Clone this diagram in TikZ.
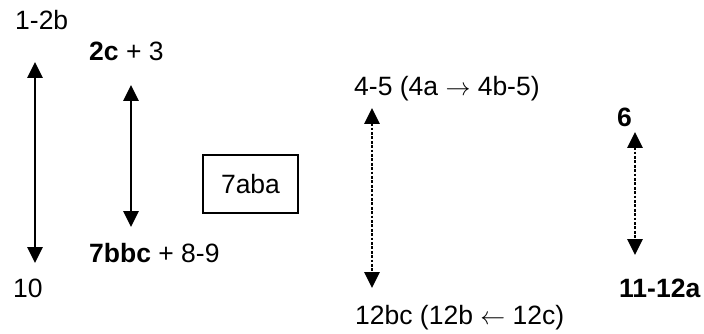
\documentclass[tikz,border=0pt]{standalone}
\usepackage{fontspec}
\setmainfont{Liberation Sans}
\usetikzlibrary{arrows.meta}
\begin{document}
\begin{tikzpicture}[x=1pt,y=-1pt,
  lbl/.style={anchor=base west,inner sep=0pt,font=\fontsize{26.5}{31}\selectfont},
  solidarr/.style={line width=2.8pt,{Triangle[width=15pt,length=16pt]}-{Triangle[width=15pt,length=16pt]}},
  dotarr/.style={line width=2.9pt,dash pattern=on 2.8pt off 1.6pt,{Triangle[width=15pt,length=16pt]}-{Triangle[width=15pt,length=16pt]}},
  framebox/.style={draw,line width=1.3pt,minimum width=95pt,minimum height=58pt,inner sep=0pt,font=\fontsize{26.5}{31}\selectfont}]
\useasboundingbox (0,0) rectangle (704,334);

% labels
\node[lbl] (n12b) at (15,30) {1-2b};
\node[lbl] (n2c) at (89,61) {\textbf{2c} + 3};
\node[lbl] (n7bbc) at (89,262) {\textbf{7bbc} + 8-9};
\node[lbl] (n10) at (13,297) {10};
\node[lbl] (n45) at (354,96) {4-5 (4a $\rightarrow$ 4b-5)};
\node[lbl] (n12bc) at (355,324) {12bc (12b $\leftarrow$ 12c)};
\node[lbl] (n6) at (617,127) {\textbf{6}};
\node[lbl] (n11) at (619,297) {\textbf{11-12a}};

% boxed label
\node[framebox] (n7aba) at (250.5,184) {7aba};

% arrow end points
\coordinate (a1t) at (35,62);
\coordinate (a1b) at (35,263);
\coordinate (a2t) at (131,85);
\coordinate (a2b) at (131,227);
\coordinate (d1t) at (372,108);
\coordinate (d1b) at (372,288);
\coordinate (d2t) at (635,132);
\coordinate (d2b) at (635,255);

% double-headed arrows
\draw[solidarr] (a1t) -- (a1b);
\draw[solidarr] (a2t) -- (a2b);
\draw[dotarr] (d1t) -- (d1b);
\draw[dotarr] (d2t) -- (d2b);
\end{tikzpicture}
\end{document}
